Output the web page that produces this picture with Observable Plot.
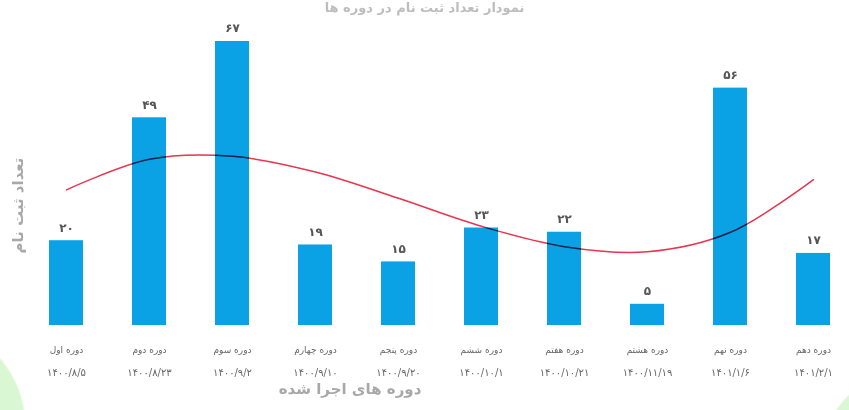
<!DOCTYPE html>
<html>
<head>
<meta charset="utf-8">
<script src="https://cdn.jsdelivr.net/npm/d3@7"></script>
<script src="https://cdn.jsdelivr.net/npm/@observablehq/plot@0.6"></script>
<style>
  html, body { margin: 0; padding: 0; }
  body {
    width: 849px; height: 410px; overflow: hidden; position: relative;
    font-family: "DejaVu Sans", sans-serif;
    background:
      radial-gradient(circle at -76px 425px, #d9f7d3 0, #d9f7d3 100px, rgba(255,255,255,0) 102px),
      radial-gradient(circle at 900px 450px, #d9f7d3 0, #d9f7d3 74px, rgba(255,255,255,0) 76px),
      #ffffff;
  }
  #title {
    position: absolute; top: 0px; left: 0; width: 849px; text-align: center;
    font-size: 13px; line-height: 16px; color: #bdbdbd; font-weight: bold; direction: rtl;
  }
  #chart { position: absolute; top: 0; left: 0; }
  #chart svg { background: transparent; }
</style>
</head>
<body>
<div id="title">نمودار تعداد ثبت نام در دوره ها</div>
<div id="chart"></div>
<script>
const categories = ["دوره اول", "دوره دوم", "دوره سوم", "دوره چهارم", "دوره پنجم", "دوره ششم", "دوره هفتم", "دوره هشتم", "دوره نهم", "دوره دهم"];
const dates = ["۱۴۰۰/۸/۵", "۱۴۰۰/۸/۲۳", "۱۴۰۰/۹/۲", "۱۴۰۰/۹/۱۰", "۱۴۰۰/۹/۲۰", "۱۴۰۰/۱۰/۱", "۱۴۰۰/۱۰/۲۱", "۱۴۰۰/۱۱/۱۹", "۱۴۰۱/۱/۶", "۱۴۰۱/۲/۱"];
const registrations = [20, 49, 67, 19, 15, 23, 22, 5, 56, 17];
const trend = [32, 39.2, 39.9, 36.2, 30, 23.4, 18.6, 17.4, 22, 34.4];
const yLabel = "تعداد ثبت نام";
const xLabel = "دوره های اجرا شده";

const faDigits = s => String(s).replace(/\d/g, d => "۰۱۲۳۴۵۶۷۸۹"[d]);

const rows = categories.map((c, i) => ({cat: c, date: dates[i], value: registrations[i], trend: trend[i]}));

const chart = Plot.plot({
  width: 849,
  height: 410,
  marginTop: 41,
  marginBottom: 85,
  marginLeft: 38,
  marginRight: 8,
  style: {fontFamily: "DejaVu Sans", background: "transparent"},
  x: {domain: categories, paddingInner: 0.594, paddingOuter: 0.1, axis: null},
  y: {domain: [0, 67], axis: null},
  marks: [
    Plot.barY(rows, {x: "cat", y: "value", fill: "#0aa2e4"}),
    Plot.line(rows, {x: "cat", y: "trend", stroke: "#e8344e", strokeWidth: 1.5, curve: "catmull-rom", mixBlendMode: "multiply"}),
    Plot.text(rows, {x: "cat", y: "value", text: d => faDigits(d.value), dy: -13, fill: "#555", fontSize: 12, fontWeight: "bold"}),
    Plot.text(rows, {x: "cat", y: () => 0, text: "cat", dy: 25, fill: "#666", fontSize: 9}),
    Plot.text(rows, {x: "cat", y: () => 0, text: "date", dy: 47, fill: "#666", fontSize: 10}),
    Plot.text([yLabel], {frameAnchor: "left", textAnchor: "middle", dx: -20, dy: 22, rotate: -90, fill: "#a8a8a8", fontSize: 15, fontWeight: "bold"}),
    Plot.text([xLabel], {frameAnchor: "bottom", dx: -90, dy: 68, fill: "#a8a8a8", fontSize: 15, fontWeight: "bold"})
  ]
});
document.getElementById("chart").appendChild(chart);
</script>
</body>
</html>
